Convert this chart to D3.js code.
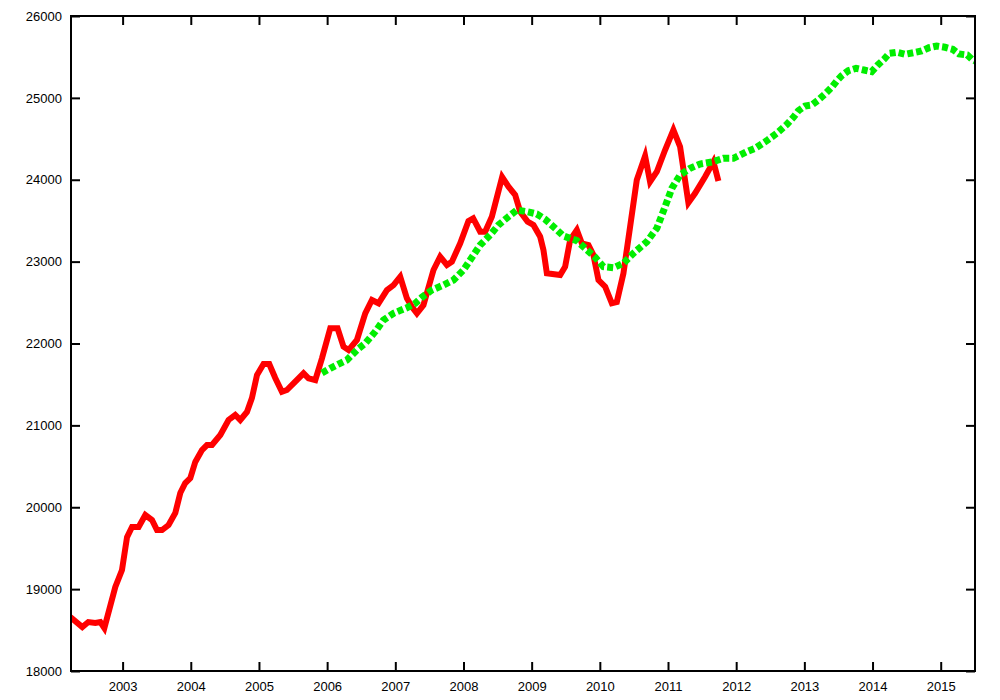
<!DOCTYPE html>
<html>
<head>
<meta charset="utf-8">
<script src="https://cdn.jsdelivr.net/npm/d3@7"></script>
<style>
  html, body { margin: 0; padding: 0; background: #fff; }
  svg { display: block; }
  .tick text { font-family: "Liberation Sans", Arial, sans-serif; font-size: 13px; fill: #000; }
</style>
</head>
<body>
<svg id="chart" width="1000" height="700"></svg>
<script>
// ---- Data (decimal year, value) ----
const redYears = [2002.233,2002.409,2002.497,2002.60,2002.673,2002.732,2002.893,2002.991,2003.065,2003.138,
  2003.235,2003.333,2003.431,2003.504,2003.578,2003.674,2003.773,2003.846,2003.919,2003.993,
  2004.066,2004.164,2004.238,2004.311,2004.433,2004.554,2004.652,2004.726,2004.824,2004.897,
  2004.971,2005.067,2005.151,2005.239,2005.337,2005.41,2005.507,2005.654,2005.727,2005.826,
  2005.924,2006.046,2006.153,2006.24,2006.314,2006.437,2006.559,2006.657,2006.754,2006.877,
  2006.974,2007.072,2007.17,2007.243,2007.317,2007.413,2007.56,2007.658,2007.757,2007.83,
  2007.952,2008.073,2008.142,2008.245,2008.318,2008.416,2008.567,2008.66,2008.758,2008.831,
  2008.941,2009.026,2009.125,2009.173,2009.223,2009.418,2009.491,2009.565,2009.663,2009.736,
  2009.833,2009.906,2009.98,2010.078,2010.176,2010.249,2010.346,2010.444,2010.542,2010.664,
  2010.737,2010.836,2010.957,2011.079,2011.177,2011.299,2011.397,2011.544,2011.666,2011.739];
const redValues = [18660,18537,18598,18586,18598,18525,19026,19233,19636,19759,
  19759,19905,19844,19722,19722,19783,19930,20174,20296,20357,
  20553,20699,20760,20760,20882,21066,21127,21066,21163,21334,
  21615,21749,21749,21578,21411,21432,21514,21636,21575,21554,
  21819,22186,22186,21961,21920,22043,22369,22531,22491,22653,
  22714,22816,22552,22449,22369,22470,22898,23060,22959,22999,
  23224,23496,23529,23365,23365,23549,24034,23915,23814,23610,
  23488,23447,23304,23142,22857,22837,22938,23264,23386,23224,
  23203,23081,22775,22694,22491,22507,22857,23426,23997,24290,
  23976,24098,24363,24608,24404,23720,23834,24037,24220,23985];

const greenYears = [2005.924,2006.046,2006.167,2006.29,2006.437,2006.559,2006.705,2006.827,2006.974,2007.17,
  2007.292,2007.39,2007.537,2007.707,2007.853,2008.0,2008.098,2008.245,2008.391,2008.513,
  2008.66,2008.783,2008.93,2009.076,2009.198,2009.345,2009.466,2009.663,2009.784,2009.931,
  2010.053,2010.199,2010.346,2010.493,2010.689,2010.836,2010.957,2011.056,2011.177,2011.324,
  2011.47,2011.646,2011.812,2011.959,2012.145,2012.277,2012.449,2012.595,2012.742,2012.839,
  2012.912,2013.01,2013.108,2013.205,2013.303,2013.402,2013.475,2013.548,2013.645,2013.758,
  2013.875,2013.988,2014.076,2014.168,2014.246,2014.355,2014.477,2014.598,2014.721,2014.828,
  2014.941,2015.063,2015.176,2015.268,2015.39,2015.469,2015.503];
const greenValues = [21640,21697,21749,21798,21920,22002,22144,22287,22369,22437,
  22491,22564,22653,22714,22775,22898,23020,23203,23325,23447,
  23549,23630,23610,23582,23517,23407,23313,23256,23163,23053,
  22938,22926,22980,23102,23243,23407,23671,23895,24058,24140,
  24192,24217,24262,24262,24339,24384,24477,24567,24675,24763,
  24843,24901,24913,24974,25047,25129,25206,25271,25332,25361,
  25340,25320,25401,25471,25544,25557,25532,25552,25573,25613,
  25634,25618,25593,25536,25524,25463,25450];

const xTickYears = [2003,2004,2005,2006,2007,2008,2009,2010,2011,2012,2013,2014,2015];
const yTickValues = [18000,19000,20000,21000,22000,23000,24000,25000,26000];

// ---- Layout ----
const L = 71, R = 975, T = 16, B = 671;
const svg = d3.select("#chart");

const x = d3.scaleLinear().domain([2002.243, 2015.503]).range([L, R]);
const y = d3.scaleLinear().domain([18000, 26000]).range([B, T]);

svg.append("clipPath").attr("id", "plotclip")
  .append("rect").attr("x", L).attr("y", T).attr("width", R - L).attr("height", B - T);

const line = d3.line().x(d => x(d[0])).y(d => y(d[1]));
const red = redYears.map((yr, i) => [yr, redValues[i]]);
const green = greenYears.map((yr, i) => [yr, greenValues[i]]);

const plot = svg.append("g").attr("clip-path", "url(#plotclip)");
plot.append("path").datum(red)
  .attr("d", line).attr("fill", "none")
  .attr("stroke", "#ff0000").attr("stroke-width", 6)
  .attr("stroke-linejoin", "miter").attr("stroke-miterlimit", 4);
plot.append("path").datum(green)
  .attr("d", line).attr("fill", "none")
  .attr("stroke", "#00ee00").attr("stroke-width", 7)
  .attr("stroke-dasharray", "6,3");

// ---- Axes (inward ticks, mirrored) ----
function styleAxis(g) {
  g.select(".domain").remove();
  g.selectAll(".tick line").attr("stroke", "#000").attr("stroke-width", 2);
}
svg.append("g").attr("transform", `translate(${L},0)`)
  .call(d3.axisLeft(y).tickValues(yTickValues).tickFormat(d3.format("d"))
    .tickSizeInner(-9).tickSizeOuter(0).tickPadding(9))
  .call(styleAxis);
svg.append("g").attr("transform", `translate(${R},0)`)
  .call(d3.axisRight(y).tickValues(yTickValues).tickFormat("")
    .tickSizeInner(-9).tickSizeOuter(0))
  .call(styleAxis);
svg.append("g").attr("transform", `translate(0,${B})`)
  .call(d3.axisBottom(x).tickValues(xTickYears).tickFormat(d3.format("d"))
    .tickSizeInner(-9).tickSizeOuter(0).tickPadding(11))
  .call(styleAxis);
svg.append("g").attr("transform", `translate(0,${T})`)
  .call(d3.axisTop(x).tickValues(xTickYears).tickFormat("")
    .tickSizeInner(-9).tickSizeOuter(0))
  .call(styleAxis);

svg.append("rect").attr("x", L).attr("y", T).attr("width", R - L).attr("height", B - T)
  .attr("fill", "none").attr("stroke", "#000").attr("stroke-width", 2);
</script>
</body>
</html>
